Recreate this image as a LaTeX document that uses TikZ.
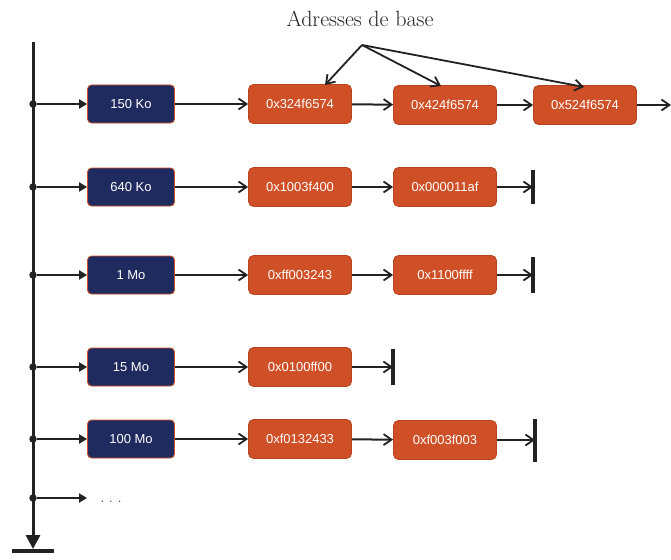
\documentclass[tikz,border=0pt]{standalone}
\usepackage{fontspec}
\newfontfamily\boxfont{Liberation Sans}
\usetikzlibrary{arrows.meta,positioning}

\definecolor{navy}{HTML}{1F2B5E}
\definecolor{rust}{HTML}{CF4F27}
\definecolor{rustedge}{HTML}{B8431F}
\definecolor{ink}{HTML}{222222}

\tikzset{
  sizebox/.style={draw=rust, line width=0.8pt, fill=navy, rounded corners=4pt,
    minimum width=87pt, minimum height=38pt, inner sep=0pt,
    text=white, font=\boxfont\fontsize{13}{15}\selectfont},
  addrbox/.style={draw=rustedge, line width=0.8pt, fill=rust, rounded corners=5pt,
    minimum width=103pt, minimum height=39pt, inner sep=0pt,
    text=white, font=\boxfont\fontsize{13}{15}\selectfont},
  link/.style={draw=ink, line width=2pt, -{Straight Barb[length=8pt,width=11pt,line width=1.8pt]}},
  tap/.style={draw=ink, line width=2pt, -{Triangle[length=8pt,width=9pt]}},
  stopbar/.style={draw=ink, line width=3.2pt},
  junction/.style={circle, fill=ink, inner sep=0pt, minimum size=7.5pt},
}

\begin{document}
\begin{tikzpicture}[x=1pt,y=-1pt]
  \useasboundingbox (0,0) rectangle (671,559);

  % main vertical list
  \coordinate (top) at (33,42);
  \coordinate (bottom) at (33,549);
  \draw[draw=ink, line width=3pt, -{Triangle[length=14pt,width=14pt]}] (top) -- (bottom);
  \coordinate (groundL) at (12,551);
  \coordinate (groundR) at (54,551);
  \draw[draw=ink, line width=3.5pt] (groundL) -- (groundR);

  % junctions on the main list
  \foreach \n/\y in {j1/104, j2/187, j3/275, j4/367, j5/439, j6/498}
    \node[junction] (\n) at (33,\y) {};

  % size classes
  \node[sizebox] (s1) at (131,104) {150 Ko};
  \node[sizebox] (s2) at (131,187) {640 Ko};
  \node[sizebox] (s3) at (131,275) {1 Mo};
  \node[sizebox] (s4) at (131,367) {15 Mo};
  \node[sizebox] (s5) at (131,439) {100 Mo};
  \coordinate (s6) at (87,498);
  \node[font=\boxfont\fontsize{13}{15}\selectfont, text=ink!75] (dots) at (111,502) {.\hspace{5pt}.\hspace{5pt}.};

  % address blocks
  \node[addrbox] (a11) at (300,104) {0x324f6574};
  \node[addrbox] (a12) at (445,105) {0x424f6574};
  \node[addrbox] (a13) at (585,105) {0x524f6574};

  \node[addrbox] (a21) at (300,187) {0x1003f400};
  \node[addrbox] (a22) at (445,187) {0x000011af};

  \node[addrbox] (a31) at (300,275) {0xff003243};
  \node[addrbox] (a32) at (445,275) {0x1100ffff};

  \node[addrbox] (a41) at (300,367) {0x0100ff00};

  \node[addrbox] (a51) at (300,439) {0xf0132433};
  \node[addrbox] (a52) at (445,440) {0xf003f003};

  % taps from the main list
  \foreach \j/\s in {j1/s1, j2/s2, j3/s3, j4/s4, j5/s5}
    \draw[tap] (\j) -- (\s.west);
  \draw[tap] (j6) -- (s6);

  % chains
  \draw[link] (s1) -- (a11);
  \draw[link] (a11) -- (a12);
  \draw[link] (a12) -- (a13);
  \coordinate (out1) at (671,105);
  \draw[link] (a13) -- (out1);

  \draw[link] (s2) -- (a21);
  \draw[link] (a21) -- (a22);
  \coordinate (e2) at (533,187);
  \draw[link] (a22) -- (e2);
  \draw[stopbar] ([yshift=-17pt]e2) -- ([yshift=17pt]e2);

  \draw[link] (s3) -- (a31);
  \draw[link] (a31) -- (a32);
  \coordinate (e3) at (533,275);
  \draw[link] (a32) -- (e3);
  \draw[stopbar] ([yshift=-18pt]e3) -- ([yshift=18pt]e3);

  \draw[link] (s4) -- (a41);
  \coordinate (e4) at (393,367);
  \draw[link] (a41) -- (e4);
  \draw[stopbar] ([yshift=-18pt]e4) -- ([yshift=18pt]e4);

  \draw[link] (s5) -- (a51);
  \draw[link] (a51) -- (a52);
  \coordinate (e5) at (535,440);
  \draw[link] (a52) -- (e5);
  \draw[stopbar] ([yshift=-22pt]e5) -- ([yshift=21pt]e5);

  % base address annotation
  \node[font=\fontsize{22}{26}\selectfont, text=ink] (lbl) at (360,19) {Adresses de base};
  \coordinate (fan) at (362,45);
  \coordinate (t1) at (325,85);
  \coordinate (t2) at (441,86);
  \coordinate (t3) at (584,87);
  \draw[link, line width=1.8pt] (fan) -- (t1);
  \draw[link, line width=1.8pt] (fan) -- (t2);
  \draw[link, line width=1.8pt] (fan) -- (t3);
\end{tikzpicture}
\end{document}
